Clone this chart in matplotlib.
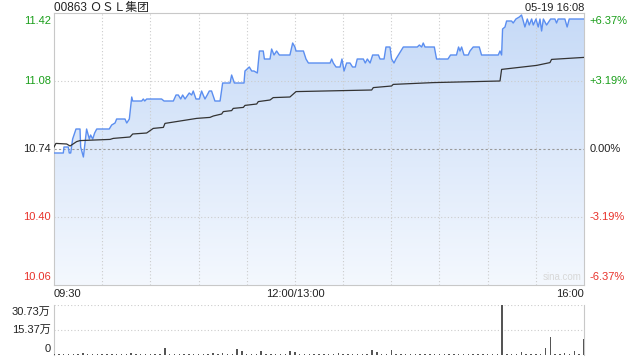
import numpy as np
import matplotlib
matplotlib.use("Agg")
import matplotlib.pyplot as plt
from matplotlib.patches import Polygon
from matplotlib.colors import LinearSegmentedColormap

plt.rcParams['font.family'] = ['Liberation Sans', 'Noto Sans CJK SC', 'DejaVu Sans']

# ---------------- data ----------------
title = "00863 ＯＳＬ集团"
stamp = "05-19 16:08"
prev_close = 10.74
y_ticks = [10.06, 10.40, 10.74, 11.08, 11.42]
pct_labels = ["-6.37%", "-3.19%", "0.00%", "+3.19%", "+6.37%"]
x_labels = ["09:30", "12:00/13:00", "16:00"]

# trading minutes since 09:30 (lunch break removed) and price
price_t = [0, 1.2, 5.8, 6.2, 8.9, 9.5, 10.4, 11.6, 13.7, 16.2, 16.6, 18.3, 20.3, 22.0, 22.8, 24.1,
           25.3, 26.6, 34.4, 35.9, 38.0, 39.0, 44.2, 45.3, 46.9, 48.4, 49.0, 54.6, 55.6, 56.5,
           57.7, 67.0, 68.5, 74.3, 76.0, 77.4, 78.9, 80.1, 81.6, 84.2, 85.7, 86.7, 88.4, 90.5,
           91.9, 92.9, 94.0, 95.4, 96.7, 98.1, 100.2, 103.4, 105.0, 109.6, 110.6, 112.3, 118.3,
           118.9, 121.6, 123.1, 124.5, 126.6, 127.9, 130.3, 131.0, 134.5, 135.5, 137.0, 138.6,
           140.3, 146.9, 148.6, 150.0, 150.7, 155.3, 156.9, 158.4, 171.9, 172.9, 173.9, 175.6,
           178.1, 179.3, 180.6, 182.2, 184.3, 185.9, 187.6, 188.8, 192.6, 193.8, 195.1, 196.8,
           198.4, 202.0, 203.0, 205.5, 206.7, 209.2, 210.2, 211.7, 212.9, 217.5, 226.2, 227.5,
           228.9, 229.9, 231.0, 236.8, 238.2, 245.3, 246.9, 250.6, 251.9, 252.8, 253.8, 255.3,
           257.9, 259.0, 261.0, 264.8, 266.2, 276.6, 277.7, 278.7, 279.3, 280.8, 281.8, 284.9,
           285.9, 287.6, 289.7, 291.1, 292.2, 293.2, 294.7, 295.9, 297.4, 298.4, 300.1, 301.5,
           302.6, 303.6, 304.7, 306.7, 309.2, 311.9, 312.9, 313.9, 318.1, 319.5, 320.8, 330.0]
price = [10.72, 10.72, 10.72, 10.75, 10.75, 10.72, 10.72, 10.79, 10.84, 10.84, 10.75, 10.70,
         10.84, 10.79, 10.81, 10.79, 10.82, 10.84, 10.84, 10.86, 10.87, 10.89, 10.89, 10.87,
         10.89, 11.00, 10.98, 10.98, 10.99, 10.98, 10.99, 10.99, 10.98, 10.98, 11.01, 11.01,
         10.99, 11.01, 10.99, 11.02, 11.01, 11.03, 10.99, 10.99, 11.03, 11.01, 10.99, 11.01,
         11.03, 11.03, 10.98, 10.98, 11.07, 11.07, 11.11, 11.07, 11.07, 11.13, 11.15, 11.13,
         11.13, 11.12, 11.23, 11.23, 11.19, 11.19, 11.24, 11.21, 11.23, 11.21, 11.21, 11.27,
         11.25, 11.23, 11.23, 11.19, 11.17, 11.17, 11.19, 11.17, 11.15, 11.15, 11.19, 11.13,
         11.17, 11.17, 11.15, 11.15, 11.19, 11.19, 11.17, 11.19, 11.17, 11.21, 11.21, 11.19,
         11.19, 11.25, 11.25, 11.19, 11.17, 11.19, 11.25, 11.25, 11.26, 11.25, 11.27, 11.25,
         11.25, 11.19, 11.19, 11.21, 11.21, 11.25, 11.23, 11.25, 11.21, 11.21, 11.23, 11.25,
         11.25, 11.21, 11.21, 11.23, 11.21, 11.34, 11.35, 11.38, 11.38, 11.37, 11.39, 11.40,
         11.41, 11.38, 11.35, 11.39, 11.36, 11.39, 11.36, 11.39, 11.35, 11.39, 11.33, 11.39,
         11.36, 11.39, 11.39, 11.37, 11.39, 11.39, 11.35, 11.39, 11.39]

avg_t = [0, 1.2, 7.9, 10.0, 14.1, 16.2, 34.9, 36.9, 47.3, 49.0, 57.7, 61.8, 68.1, 69.1, 88.8,
         97.1, 99.2, 104.4, 105.4, 110.6, 111.6, 117.9, 118.9, 126.2, 127.2, 134.5, 136.5,
         146.9, 150.7, 197.8, 198.8, 210.2, 211.2, 236.1, 277.7, 278.7, 300.5, 308.8, 309.8,
         330.0]
avg_price = [10.75, 10.768, 10.765, 10.755, 10.777, 10.782, 10.788, 10.793, 10.800, 10.815,
             10.820, 10.843, 10.848, 10.868, 10.893, 10.898, 10.905, 10.915, 10.927, 10.932,
             10.943, 10.948, 10.958, 10.965, 10.977, 10.985, 10.997, 11.000, 11.027, 11.035,
             11.047, 11.055, 11.063, 11.072, 11.080, 11.138, 11.158, 11.172, 11.188, 11.198]

# volume (in 万 shares), one bar per 3 trading minutes
volume = [0.9, 0.5, 0.7, 0.6, 0.8, 0.5, 1.0, 0.6, 0.7, 0.5,
          0.6, 0.8, 0.5, 0.7, 0.6, 0.9, 1.5, 0.6, 0.5, 0.7,
          0.6, 0.5, 0.8, 4.3, 0.6, 0.7, 0.5, 0.6, 0.8, 0.5,
          0.7, 0.6, 0.9, 1.5, 0.6, 1.5, 0.7, 0.8, 3.6, 2.5,
          0.9, 0.6, 0.7, 2.6, 0.6, 0.5, 0.7, 0.6, 0.8, 2.6,
          1.8, 0.7, 0.5, 0.6, 0.8, 0.5, 0.6, 0.7, 0.5, 1.2,
          0.6, 0.5, 0.7, 0.6, 0.5, 0.8, 3.0, 2.0, 0.6, 0.5,
          3.0, 0.7, 0.6, 0.5, 0.8, 0.6, 0.5, 0.7, 0.6, 0.5,
          0.8, 0.6, 0.5, 0.7, 0.6, 0.5, 0.8, 0.6, 0.7, 0.5,
          0.6, 0.8, 0.9, 30.73, 0.8, 0.7, 0.6, 1.8, 0.7, 0.8,
          0.6, 0.9, 4.3, 11.2, 0.8, 0.7, 1.5, 0.9, 2.6, 0.8, 9.8]
vol_ticks = [0, 15.37, 30.73]
vol_labels = ["0", "15.37万", "30.73万"]

# ---------------- plot ----------------
GREEN = '#1a9e1a'
RED = '#e8322b'
GRID = '#cccccc'
SPINE = '#c8c8c8'
T_END = 330

fig = plt.figure(figsize=(6.4, 3.6), dpi=100)
ax = fig.add_axes([54/640, 75/360, 530/640, 272/360])
axv = fig.add_axes([54/640, 5/360, 530/640, 50/360])

ymin, ymax = y_ticks[0], y_ticks[-1]
ax.set_xlim(0, T_END)
ax.set_ylim(ymin, ymax)

# gradient fill under price line
verts = [(price_t[0], ymin)] + list(zip(price_t, price)) + [(price_t[-1], ymin)]
poly = Polygon(verts, closed=True, facecolor='none', edgecolor='none')
ax.add_patch(poly)
grad = np.linspace(0, 1, 256).reshape(-1, 1)
cmap = LinearSegmentedColormap.from_list('g', ['#c6daf7', '#f4f8fe'])
im = ax.imshow(grad, extent=[0, T_END, ymin, ymax], aspect='auto', cmap=cmap,
               origin='upper', zorder=1)
im.set_clip_path(poly)

# grid
for k in range(1, 11):
    ax.axvline(k * 30, color=GRID, lw=0.8, ls=(0, (1, 2)), zorder=2)
for v in [y_ticks[1], y_ticks[3]]:
    ax.axhline(v, color=GRID, lw=0.8, ls=(0, (1, 2)), zorder=2)
ax.axhline(prev_close, color='#999999', lw=0.8, ls=(0, (2, 2)), zorder=2)

ax.plot(price_t, price, color='#5b8ef0', lw=1.0, zorder=4)
ax.plot(avg_t, avg_price, color='#333333', lw=0.9, zorder=5)

for s in ax.spines.values():
    s.set_color(SPINE)
    s.set_linewidth(0.8)
ax.set_xticks([]); ax.set_yticks([])

colors = [RED, RED, '#222222', GREEN, GREEN]
for i, (v, lab, c) in enumerate(zip(y_ticks, pct_labels, colors)):
    va = 'bottom' if i == 0 else ('top' if i == 4 else 'center')
    dy = 0.012 if i == 0 else (-0.012 if i == 4 else 0)
    yy = (v - ymin) / (ymax - ymin) + dy
    ax.text(-0.006, yy, f"{v:.2f}", transform=ax.transAxes, ha='right', va=va,
            color=c, fontsize=8)
    ax.text(1.011, yy, lab, transform=ax.transAxes, ha='left', va=va,
            color=c, fontsize=8)

ax.text(0, 1.006, title, transform=ax.transAxes, ha='left', va='baseline',
        fontsize=8.5, color='#222222')
ax.text(1.0, 1.006, stamp, transform=ax.transAxes, ha='right', va='baseline',
        fontsize=8, color='#222222')

ax.text(0.0, -0.015, x_labels[0], transform=ax.transAxes, ha='left', va='top', fontsize=8, color='#222222')
ax.text(150 / T_END, -0.015, x_labels[1], transform=ax.transAxes, ha='center', va='top', fontsize=8, color='#222222')
ax.text(1.0, -0.015, x_labels[2], transform=ax.transAxes, ha='right', va='top', fontsize=8, color='#222222')

ax.text(0.995, 0.01, "sina.com", transform=ax.transAxes, ha='right', va='bottom',
        fontsize=7, color='#d8d8d8', zorder=3)

# volume panel
vt = [3 * i for i in range(len(volume))]
axv.set_xlim(0, T_END)
axv.set_ylim(0, vol_ticks[-1])
axv.bar(vt, volume, width=0.9, color='#555555', linewidth=0, zorder=3)
axv.axhline(vol_ticks[1], color=GRID, lw=0.8, ls=(0, (1, 2)), zorder=1)
axv.axhline(vol_ticks[2], color=GRID, lw=0.8, ls=(0, (1, 2)), zorder=1)
for s in axv.spines.values():
    s.set_visible(False)
axv.spines['left'].set_visible(True)
axv.spines['right'].set_visible(True)
axv.spines['left'].set_color(SPINE)
axv.spines['right'].set_color(SPINE)
axv.set_xticks([]); axv.set_yticks([])
axv.text(-0.006, 0.02, vol_labels[0], transform=axv.transAxes, ha='right', va='bottom', fontsize=8, color='#222222')
axv.text(-0.006, 0.5, vol_labels[1], transform=axv.transAxes, ha='right', va='center', fontsize=8, color='#222222')
axv.text(-0.006, 0.96, vol_labels[2], transform=axv.transAxes, ha='right', va='top', fontsize=8, color='#222222')

fig.savefig('out.png', dpi=100)
